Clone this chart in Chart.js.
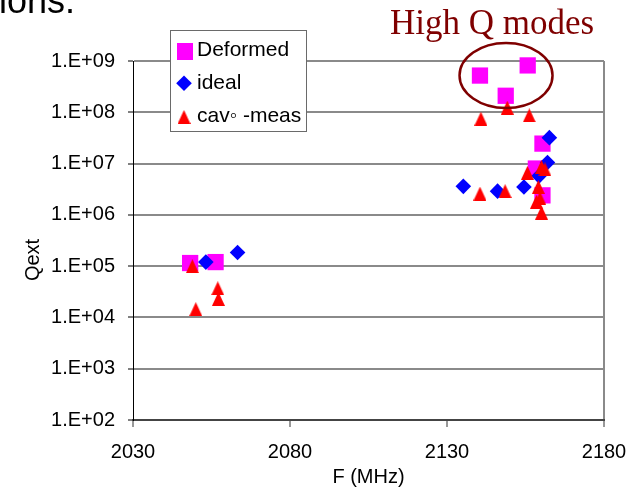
<!DOCTYPE html>
<html>
<head>
<meta charset="utf-8">
<script src="https://cdn.jsdelivr.net/npm/chart.js@4.4.1/dist/chart.umd.min.js"></script>
<style>
  html, body { margin: 0; padding: 0; background: #fff; }
  #chart { display: block; }
</style>
</head>
<body>
<canvas id="chart" width="633" height="489"></canvas>
<script>
// Deformed (magenta squares)
const deformedF = [2048.2, 2056.3, 2140.5, 2148.7, 2155.7, 2158.3, 2160.4, 2160.4];
const deformedQ = [1.15e5, 1.2e5, 5.2e8, 2.1e8, 8.2e8, 8e6, 2.45e7, 2.4e6];

// ideal (blue diamonds)
const idealF = [2053.2, 2063.3, 2135.2, 2146.1, 2154.5, 2159.3, 2162.0, 2162.6];
const idealQ = [1.2e5, 1.85e5, 3.6e6, 2.9e6, 3.5e6, 5.7e6, 1.05e7, 3.2e7];

// cav-meas (red triangles)
const measF = [2048.9, 2050.0, 2057.0, 2057.2, 2140.8, 2149.2, 2156.2, 2140.5,
               2148.5, 2155.6, 2160.1, 2161.2, 2159.1, 2159.6, 2158.5, 2160.1];
const measQ = [1.0e5, 1.45e4, 3.7e4, 2.3e4, 7.5e7, 1.23e8, 8.7e7, 2.6e6,
               2.9e6, 6.6e6, 8.6e6, 7.7e6, 3.5e6, 2.1e6, 1.8e6, 1.1e6];

const yTicks = [1e2, 1e3, 1e4, 1e5, 1e6, 1e7, 1e8, 1e9];
const yTickLabels = ['1.E+02', '1.E+03', '1.E+04', '1.E+05', '1.E+06', '1.E+07', '1.E+08', '1.E+09'];
const legendLabels = ['Deformed', 'ideal', 'cav\u25E6 -meas'];

// "High Q modes" ellipse centre, in data units
const highQF = 2148.8;
const highQQ = 5.2e8;

const FONT = '"Liberation Sans", Arial, sans-serif';

// red triangle marker (taller than the built-in one)
const triangleImg = (() => {
  const c = document.createElement('canvas');
  c.width = 13; c.height = 14;
  const g = c.getContext('2d');
  g.fillStyle = '#ff0000';
  g.beginPath();
  g.moveTo(6.5, 0); g.lineTo(13, 14); g.lineTo(0, 14);
  g.closePath(); g.fill();
  return c;
})();

const toPoints = (fs, qs) => fs.map((f, i) => ({ x: f, y: qs[i] }));

// legend box, ellipse and the loose texts
const extras = {
  id: 'extras',
  afterDraw(chart) {
    const { ctx, scales: { x, y } } = chart;
    ctx.save();

    // legend
    ctx.fillStyle = '#fff';
    ctx.fillRect(170.5, 30.5, 136, 101);
    ctx.strokeStyle = '#6a6a6a';
    ctx.lineWidth = 1;
    ctx.strokeRect(170.5, 30.5, 136, 101);

    ctx.fillStyle = '#ff00ff';
    ctx.fillRect(177, 43, 16, 17);
    ctx.fillStyle = '#0000ff';
    ctx.beginPath();
    ctx.moveTo(184, 75.5); ctx.lineTo(191.8, 83.3); ctx.lineTo(184, 91.1); ctx.lineTo(176.2, 83.3);
    ctx.closePath(); ctx.fill();
    ctx.drawImage(triangleImg, 177.5, 110);

    ctx.fillStyle = '#000';
    ctx.font = '21px ' + FONT;
    ctx.textBaseline = 'middle';
    ctx.textAlign = 'left';
    ctx.fillText(legendLabels[0], 197, 50);
    ctx.fillText(legendLabels[1], 197, 83);
    ctx.fillText(legendLabels[2], 197, 116);

    // ellipse round the high Q modes
    const cx = x.getPixelForValue(highQF);
    const cy = y.getPixelForValue(highQQ);
    ctx.strokeStyle = '#7f0000';
    ctx.lineWidth = 2.5;
    ctx.beginPath();
    ctx.ellipse(cx, cy, 46.5, 32.5, 0, 0, Math.PI * 2);
    ctx.stroke();

    ctx.fillStyle = '#7f0000';
    ctx.font = '35px "Liberation Serif", "Times New Roman", serif';
    ctx.textAlign = 'center';
    ctx.textBaseline = 'alphabetic';
    ctx.fillText('High Q modes', 492, 34);

    // cut-off slide text at top left
    ctx.fillStyle = '#000';
    ctx.font = '36px ' + FONT;
    ctx.textAlign = 'left';
    ctx.fillText('ions.', -1, 13);

    // y title
    ctx.font = '20px ' + FONT;
    ctx.translate(33, 260);
    ctx.rotate(-Math.PI / 2);
    ctx.textAlign = 'center';
    ctx.textBaseline = 'middle';
    ctx.fillText('Qext', 0, 0);

    ctx.restore();
  }
};

Chart.defaults.font.family = FONT;
Chart.defaults.color = '#000';

new Chart(document.getElementById('chart'), {
  type: 'scatter',
  data: {
    datasets: [
      {
        label: 'Deformed',
        data: toPoints(deformedF, deformedQ),
        pointStyle: 'rect',
        pointRadius: 11.5,
        backgroundColor: '#ff00ff',
        borderWidth: 0,
        order: 3,
        clip: false
      },
      {
        label: 'ideal',
        data: toPoints(idealF, idealQ),
        pointStyle: 'rectRot',
        pointRadius: 7.8,
        backgroundColor: '#0000ff',
        borderWidth: 0,
        order: 2,
        clip: false
      },
      {
        label: 'cav-meas',
        data: toPoints(measF, measQ),
        pointStyle: triangleImg,
        pointRadius: 7,
        backgroundColor: '#ff0000',
        borderWidth: 0,
        order: 1,
        clip: false
      }
    ]
  },
  options: {
    responsive: false,
    animation: false,
    layout: { padding: { left: 0, right: 29, top: 61, bottom: 0 } },
    plugins: { legend: { display: false }, tooltip: { enabled: false } },
    scales: {
      x: {
        type: 'linear',
        min: 2030,
        max: 2180,
        afterFit: s => { s.height = 69; },
        ticks: { stepSize: 50, padding: 6, font: { size: 20, lineHeight: 1.9 }, callback: v => String(v) },
        grid: {
          color: c => (c.index === 3 ? '#8a8a8a' : 'rgba(0,0,0,0)'),
          lineWidth: 2,
          tickColor: '#333',
          tickLength: 7,
          tickWidth: 1
        },
        border: { color: '#444', width: 2 },
        title: { display: true, text: 'F (MHz)', font: { size: 20 }, padding: 0 }
      },
      y: {
        type: 'logarithmic',
        min: 1e2,
        max: 1e9,
        afterFit: s => { s.width = 133; },
        afterBuildTicks: s => { s.ticks = yTicks.map(v => ({ value: v })); },
        ticks: { padding: 13, font: { size: 20 }, callback: (v, i) => yTickLabels[i] },
        grid: {
          color: '#8a8a8a',
          lineWidth: 2,
          tickColor: '#000',
          tickLength: 5,
          tickWidth: 1
        },
        border: { color: '#000', width: 1 }
      }
    }
  },
  plugins: [extras]
});
</script>
</body>
</html>
